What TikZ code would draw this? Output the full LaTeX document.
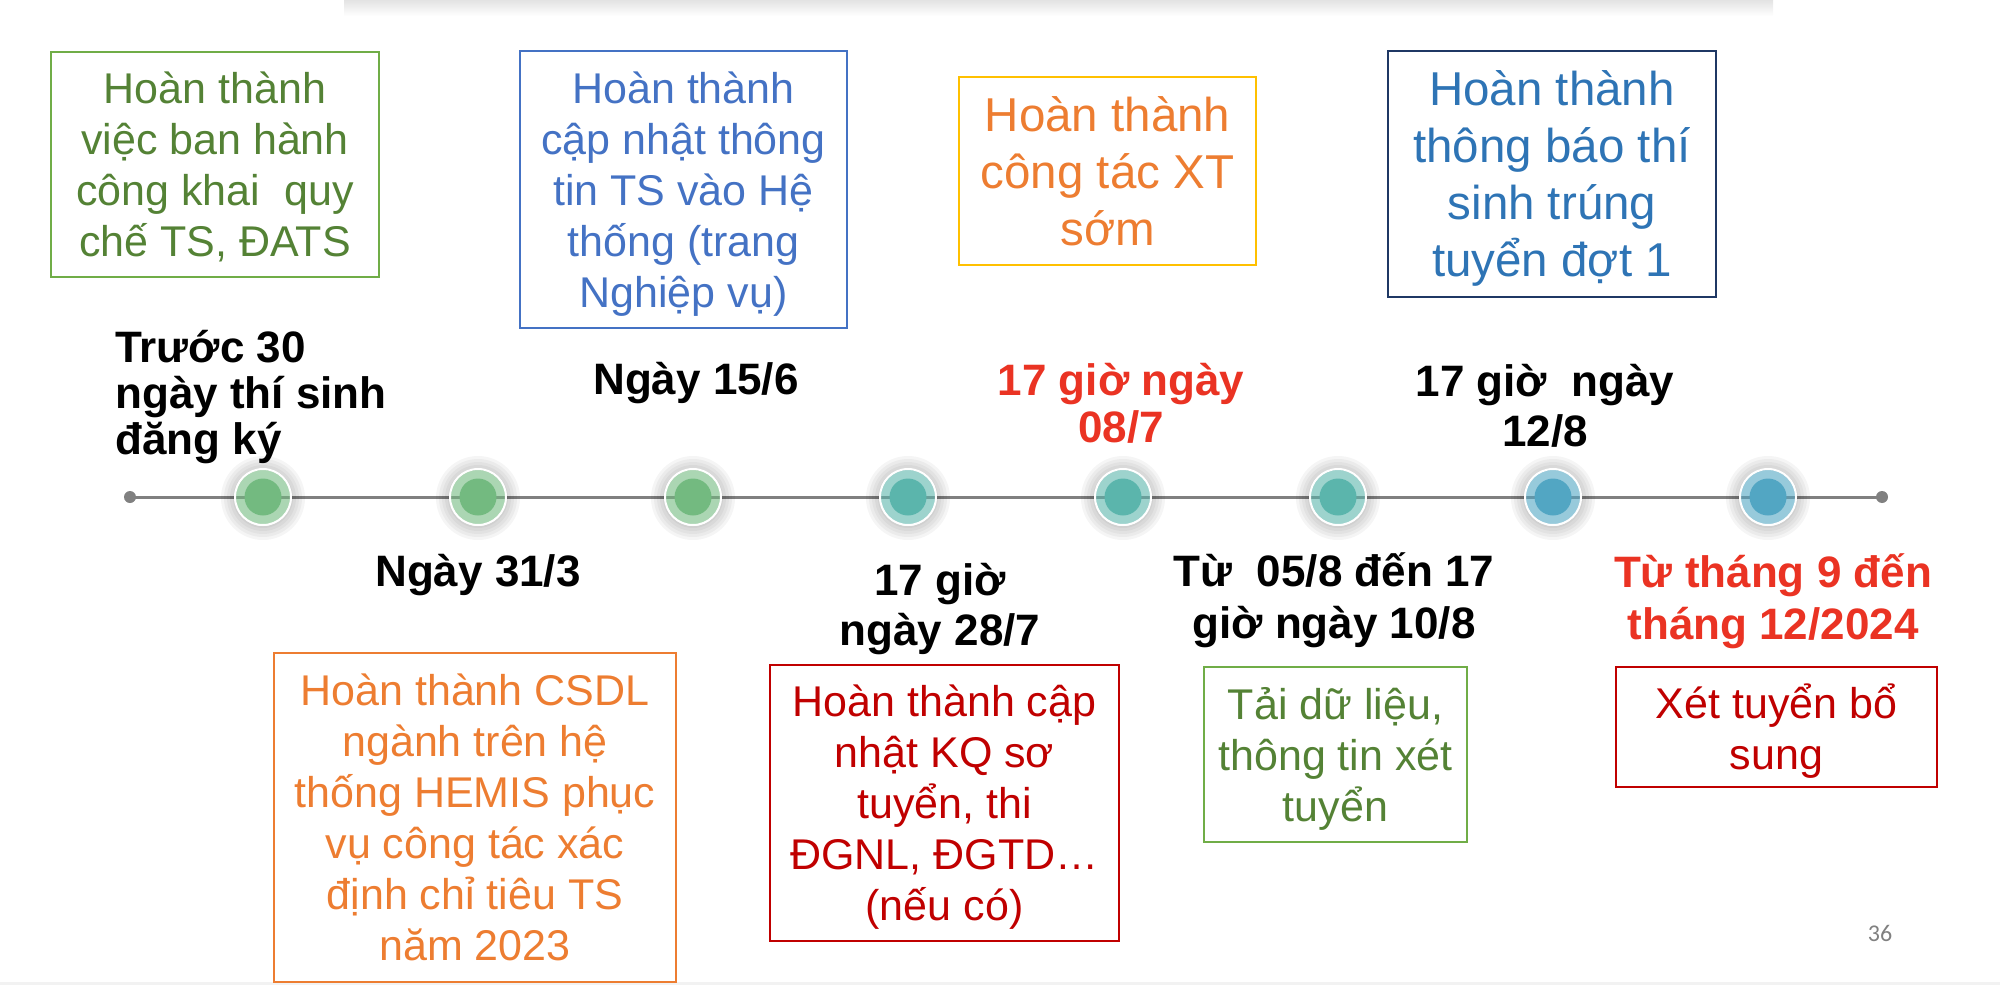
\documentclass[tikz,border=0pt]{standalone}
\usepackage{fontspec}
\setmainfont{Liberation Sans}
\newfontfamily\pagefont{Carlito}
\usetikzlibrary{positioning}
\definecolor{greenline}{HTML}{70AD47}
\definecolor{greentext}{HTML}{548235}
\definecolor{blueline}{HTML}{4472C4}
\definecolor{navyline}{HTML}{1F3864}
\definecolor{navytext}{HTML}{2E74B5}
\definecolor{goldline}{HTML}{FFC000}
\definecolor{orangetext}{HTML}{ED7D31}
\definecolor{darkred}{HTML}{C00000}
\definecolor{datered}{RGB}{234,51,35}
\definecolor{axisgray}{HTML}{808080}
\definecolor{dotgreen}{HTML}{73BA80}
\definecolor{dotteal}{HTML}{5BB5AC}
\definecolor{dotblue}{HTML}{52A6C3}

\begin{document}
\begin{tikzpicture}[x=0.5pt,y=-0.5pt,
    task/.style={rectangle,draw,line width=0.8pt,align=center,inner sep=0pt,text depth=-1pt,font=\fontsize{21.5}{25.5}\selectfont},
    bigtask/.style={task,font=\fontsize{23.75}{28.5}\selectfont},
    datelabel/.style={align=center,inner sep=0pt,font=\fontsize{22}{25}\selectfont\bfseries},
    enddot/.style={circle,fill=axisgray,inner sep=0pt,minimum size=6pt},
    dotring/.style={circle,draw=white,line width=1pt,inner sep=0pt,minimum size=28pt,fill opacity=0.6},
    dotcore/.style={circle,inner sep=0pt,minimum size=18.5pt},
    timeline/.style={draw=axisgray,line width=1.5pt}
    ]

    \useasboundingbox (0,0) rectangle (2000,985);
    \shade[top color=black!11,bottom color=white] (344,0) rectangle (1773,16);
    \fill[black!5] (0,982) rectangle (2000,985);

    % timeline
    \node[enddot] (tstart) at (130,497) {};
    \node[enddot] (tend) at (1882,497) {};
    \draw[timeline] (tstart.center) -- (tend.center);

    \foreach \i/\c in {0/dotgreen,1/dotgreen,2/dotgreen,3/dotteal,4/dotteal,5/dotteal,6/dotblue,7/dotblue} {
      \foreach \r in {30,33,36,39,42}
        \fill[black,opacity=0.04,even odd rule] (263+215*\i,498) circle[radius=\r*0.5pt] circle[radius=14pt];
      \node[dotring,fill=\c] (ring\i) at (263+215*\i,497) {};
      \node[dotcore,fill=\c] (dot\i) at (ring\i) {};
    }

    % dates
    \node[datelabel,align=left,anchor=west,font=\fontsize{22}{23}\selectfont\bfseries] (date1) at (115,397) {Trước 30\\ngày thí sinh\\đăng ký};
    \node[datelabel] (date2) at (478,575) {Ngày 31/3};
    \node[datelabel] (date3) at (696,383) {Ngày 15/6};
    \node[datelabel] (date4) at (940,609) {17 giờ\\ngày 28/7};
    \node[datelabel,text=datered,font=\fontsize{22}{23.5}\selectfont\bfseries] (date5) at (1121,403) {17 giờ ngày\\08/7};
    \node[datelabel,font=\fontsize{22}{26}\selectfont\bfseries] (date6) at (1334,600) {Từ\ \ 05/8 đến 17\\giờ ngày 10/8};
    \node[datelabel] (date7) at (1545,406) {17 giờ\ \ ngày\\12/8};
    \node[datelabel,text=datered,font=\fontsize{22}{26}\selectfont\bfseries] (date8) at (1773,601) {Từ tháng 9 đến\\tháng 12/2024};

    % tasks
    \node[task,draw=greenline,text=greentext,minimum width=164pt,minimum height=112.5pt] (task1) at (215,164.5) {Hoàn thành\\việc ban hành\\công khai\ \ quy\\chế TS, ĐATS};
    \node[task,draw=blueline,text=blueline,minimum width=163.5pt,minimum height=138.5pt] (task2) at (683.5,189.5) {Hoàn thành\\cập nhật thông\\tin TS vào Hệ\\thống (trang\\Nghiệp vụ)};
    \node[bigtask,draw=goldline,text=orangetext,minimum width=148.5pt,minimum height=94pt] (task3) at (1107.5,171) {Hoàn thành\\công tác XT\\sớm};
    \node[bigtask,draw=navyline,text=navytext,minimum width=164pt,minimum height=123pt] (task4) at (1552,174) {Hoàn thành\\thông báo thí\\sinh trúng\\tuyển đợt 1};
    \node[task,draw=orangetext,text=orangetext,minimum width=201pt,minimum height=164.5pt] (task5) at (475,817.5) {Hoàn thành CSDL\\ngành trên hệ\\thống HEMIS phục\\vụ công tác xác\\định chỉ tiêu TS\\năm 2023};
    \node[task,draw=darkred,text=darkred,minimum width=174.5pt,minimum height=138pt] (task6) at (944.5,803) {Hoàn thành cập\\nhật KQ sơ\\tuyển, thi\\ĐGNL, ĐGTD…\\(nếu có)};
    \node[task,draw=greenline,text=greentext,minimum width=131.5pt,minimum height=87.5pt] (task7) at (1335.5,754.5) {Tải dữ liệu,\\thông tin xét\\tuyển};
    \node[task,draw=darkred,text=darkred,minimum width=160.5pt,minimum height=60pt] (task8) at (1776.5,727) {Xét tuyển bổ\\sung};

    \node[text=black!50,font=\pagefont\fontsize{12}{14}\selectfont] (pagenum) at (1880,933) {36};

  \end{tikzpicture}
\end{document}
